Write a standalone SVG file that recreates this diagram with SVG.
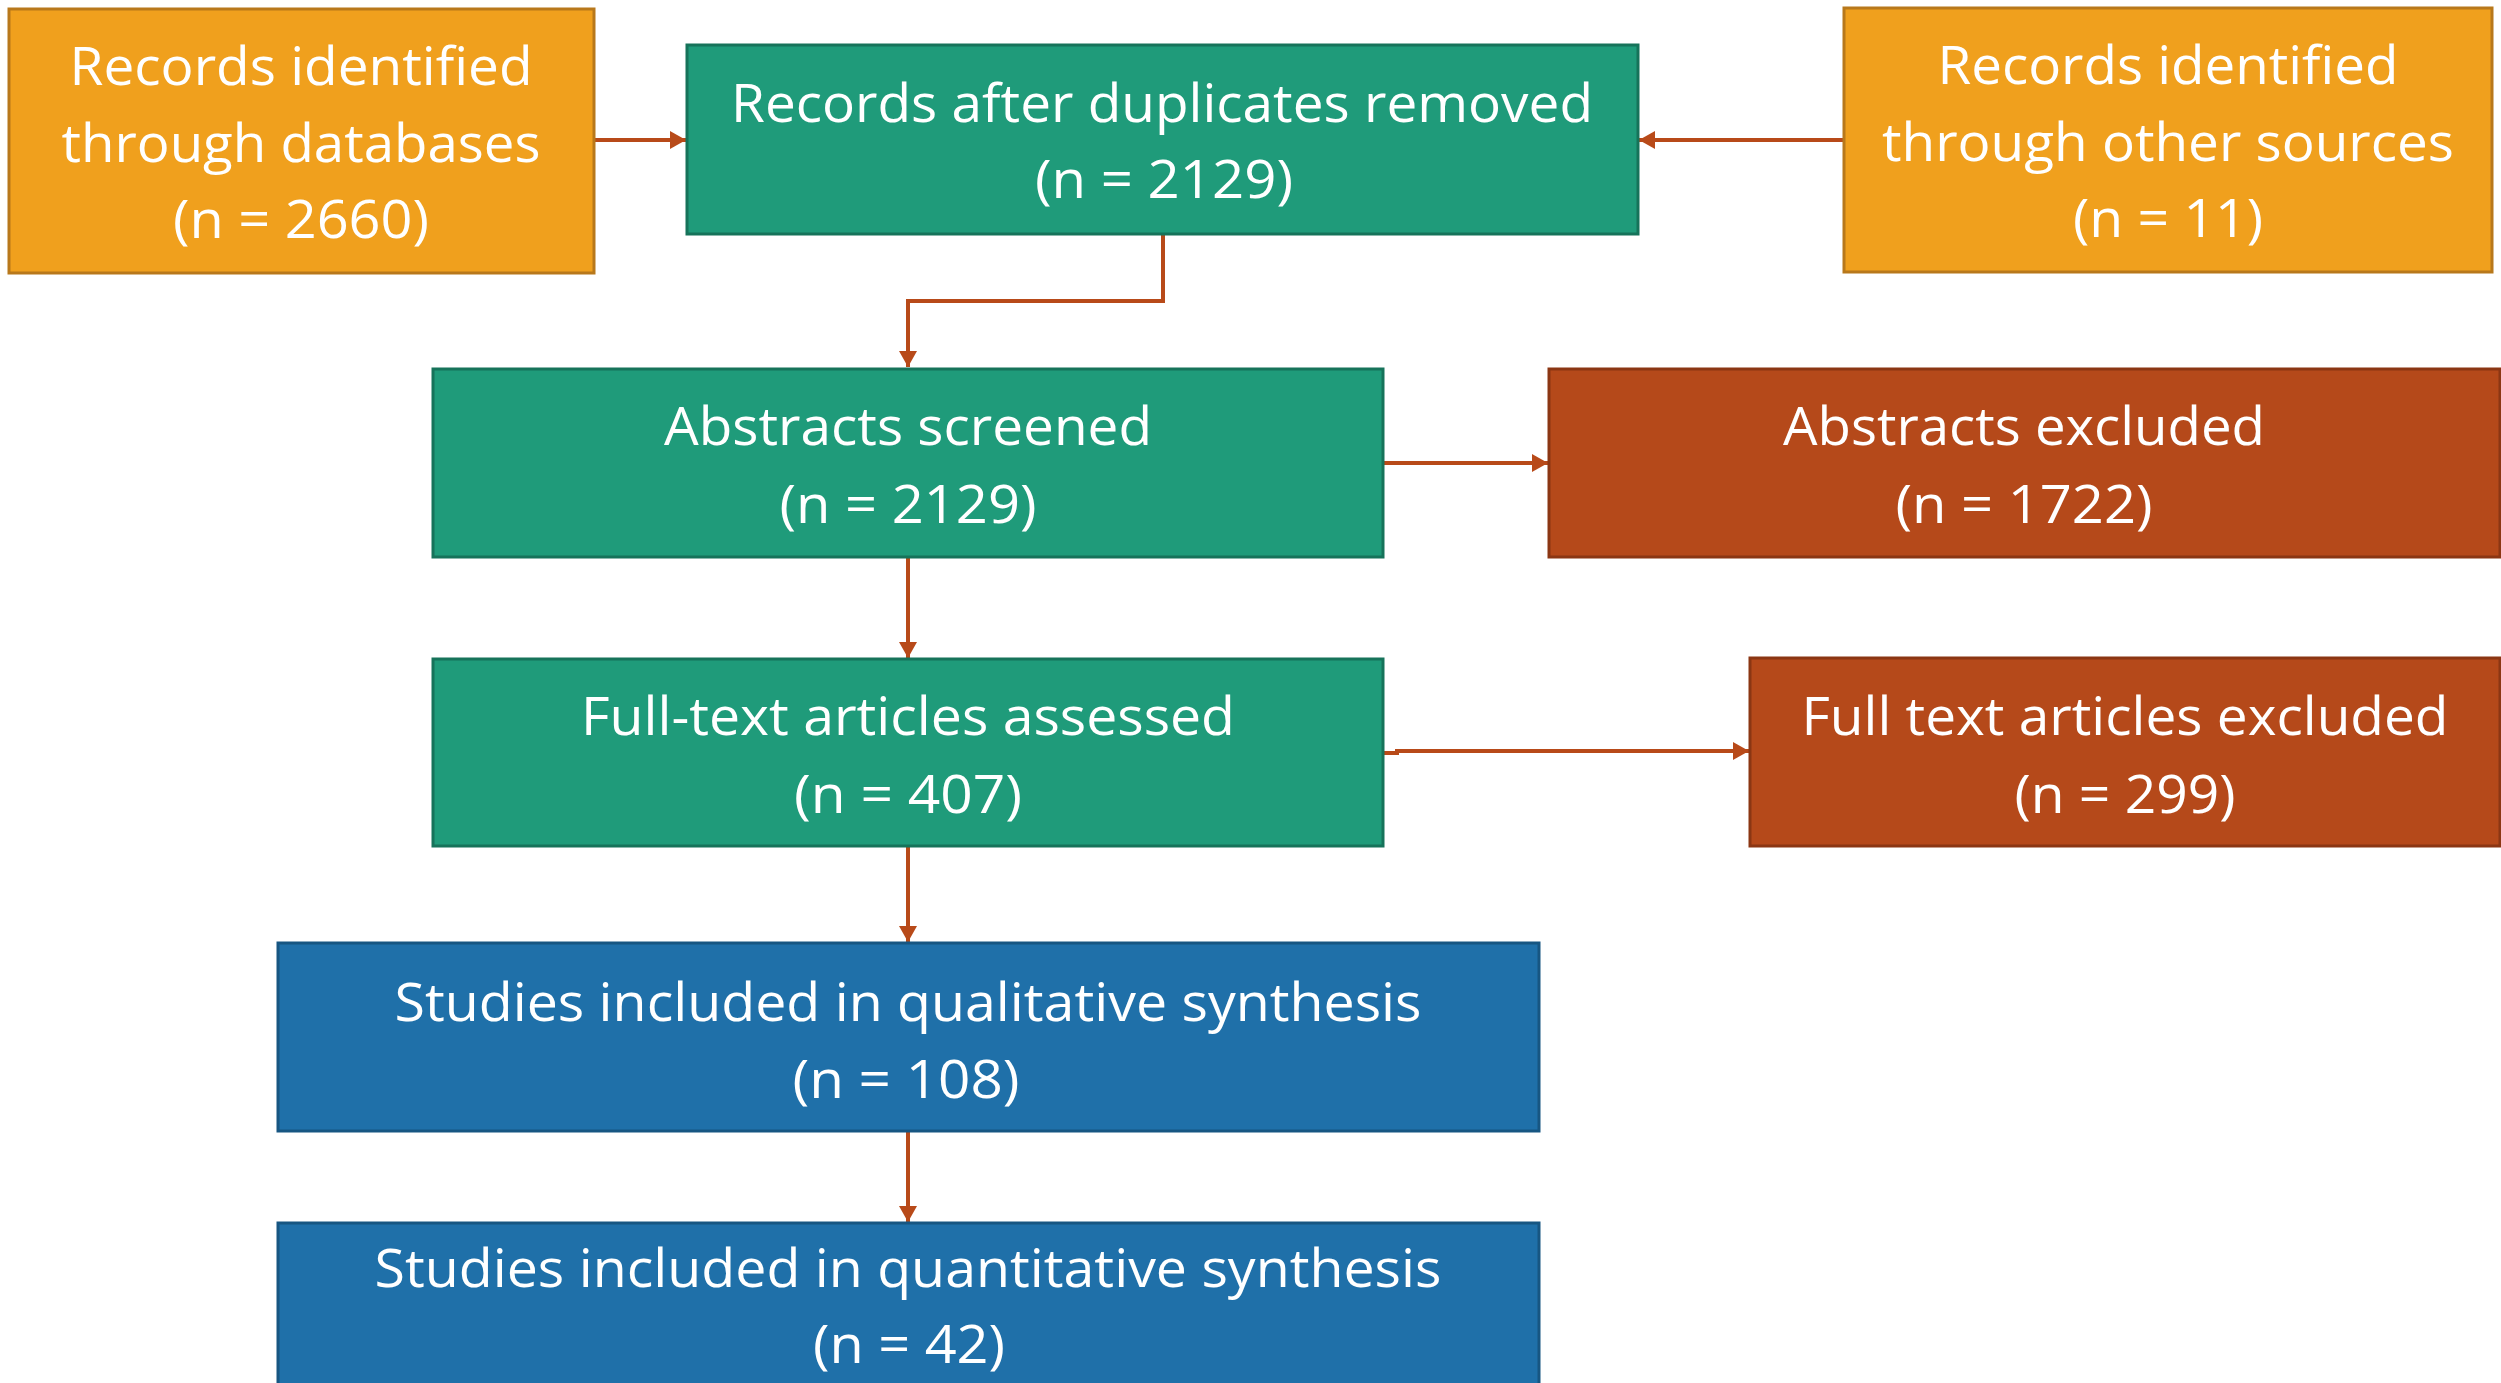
<svg xmlns="http://www.w3.org/2000/svg" width="2501" height="1383" viewBox="0 0 2501 1383">
<style>
.t{font-family:"Open Sans","Noto Sans","Liberation Sans",sans-serif;font-size:53px;fill:#ffffff;text-anchor:middle}
.org{fill:#F0A01D;stroke:#B8781B;stroke-width:3}
.grn{fill:#1F9B7A;stroke:#16735A;stroke-width:3}
.red{fill:#B5491A;stroke:#8B3613;stroke-width:3}
.blu{fill:#1F70A9;stroke:#175682;stroke-width:3}
.c{fill:none;stroke:#B84A19;stroke-width:4}
</style>
<defs>
<marker id="ah" markerUnits="userSpaceOnUse" markerWidth="16" markerHeight="18" refX="16" refY="9" orient="auto">
<path d="M0,0 L16,9 L0,18 Z" fill="#B84A19"/>
</marker>
</defs>
<g id="connectors">
<line class="c" x1="594" y1="140" x2="686" y2="140" marker-end="url(#ah)"/>
<line class="c" x1="1844" y1="140" x2="1639" y2="140" marker-end="url(#ah)"/>
<polyline class="c" points="1163,234 1163,301 908,301 908,367" marker-end="url(#ah)"/>
<line class="c" x1="1383" y1="463" x2="1548" y2="463" marker-end="url(#ah)"/>
<line class="c" x1="908" y1="557" x2="908" y2="658" marker-end="url(#ah)"/>
<polyline class="c" points="1383,753 1397,753 1397,751 1749,751" marker-end="url(#ah)"/>
<line class="c" x1="908" y1="846" x2="908" y2="942" marker-end="url(#ah)"/>
<line class="c" x1="908" y1="1131" x2="908" y2="1222" marker-end="url(#ah)"/>
</g>
<g id="node-db">
<rect class="org" x="9" y="9" width="585" height="264"/>
<text class="t" x="301" y="85" textLength="463" lengthAdjust="spacingAndGlyphs">Records identified</text>
<text class="t" x="301" y="162" textLength="479" lengthAdjust="spacingAndGlyphs">through databases</text>
<text class="t" x="301" y="238" textLength="256" lengthAdjust="spacingAndGlyphs">(n = 2660)</text>
</g>
<g id="node-dedup">
<rect class="grn" x="687" y="45" width="951" height="189"/>
<text class="t" x="1162" y="122" textLength="862" lengthAdjust="spacingAndGlyphs">Records after duplicates removed</text>
<text class="t" x="1164" y="198" textLength="258" lengthAdjust="spacingAndGlyphs">(n = 2129)</text>
</g>
<g id="node-other">
<rect class="org" x="1844" y="8" width="648" height="264"/>
<text class="t" x="2168" y="84" textLength="461" lengthAdjust="spacingAndGlyphs">Records identified</text>
<text class="t" x="2168" y="161" textLength="572" lengthAdjust="spacingAndGlyphs">through other sources</text>
<text class="t" x="2168" y="237" textLength="190" lengthAdjust="spacingAndGlyphs">(n = 11)</text>
</g>
<g id="node-abs">
<rect class="grn" x="433" y="369" width="950" height="188"/>
<text class="t" x="908" y="445" textLength="488" lengthAdjust="spacingAndGlyphs">Abstracts screened</text>
<text class="t" x="908" y="523" textLength="257" lengthAdjust="spacingAndGlyphs">(n = 2129)</text>
</g>
<g id="node-absex">
<rect class="red" x="1549" y="369" width="951" height="188"/>
<text class="t" x="2024" y="445" textLength="482" lengthAdjust="spacingAndGlyphs">Abstracts excluded</text>
<text class="t" x="2024" y="523" textLength="257" lengthAdjust="spacingAndGlyphs">(n = 1722)</text>
</g>
<g id="node-full">
<rect class="grn" x="433" y="659" width="950" height="187"/>
<text class="t" x="908" y="735" textLength="654" lengthAdjust="spacingAndGlyphs">Full-text articles assessed</text>
<text class="t" x="908" y="813" textLength="228" lengthAdjust="spacingAndGlyphs">(n = 407)</text>
</g>
<g id="node-fullex">
<rect class="red" x="1750" y="658" width="750" height="188"/>
<text class="t" x="2125" y="735" textLength="647" lengthAdjust="spacingAndGlyphs">Full text articles excluded</text>
<text class="t" x="2125" y="813" textLength="221" lengthAdjust="spacingAndGlyphs">(n = 299)</text>
</g>
<g id="node-qual">
<rect class="blu" x="278" y="943" width="1261" height="188"/>
<text class="t" x="908" y="1021" textLength="1027" lengthAdjust="spacingAndGlyphs">Studies included in qualitative synthesis</text>
<text class="t" x="906" y="1098" textLength="227" lengthAdjust="spacingAndGlyphs">(n = 108)</text>
</g>
<g id="node-quant">
<rect class="blu" x="278" y="1223" width="1261" height="190"/>
<text class="t" x="908" y="1287" textLength="1067" lengthAdjust="spacingAndGlyphs">Studies included in quantitative synthesis</text>
<text class="t" x="909" y="1363" textLength="192" lengthAdjust="spacingAndGlyphs">(n = 42)</text>
</g>
</svg>
